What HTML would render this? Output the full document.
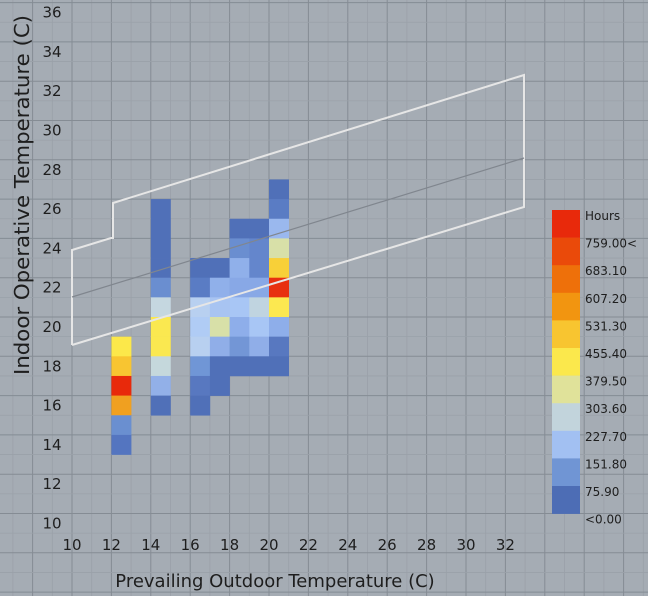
<!DOCTYPE html>
<html><head><meta charset="utf-8"><style>
html,body{margin:0;padding:0;background:#a5acb4;}
svg{display:block;}
text{font-family:"DejaVu Sans","Liberation Sans",sans-serif;fill:#1e1e1e;}
</style></head><body>
<svg width="648" height="596" viewBox="0 0 648 596" xmlns="http://www.w3.org/2000/svg">
<rect width="648" height="596" fill="#a5acb4"/>
<g id="grid"></g>
<g id="cells"></g>
<polyline points="72,345 72,250 111,238 113,238 113,203 524,75 524,207 72,345" fill="none" stroke="#e6e6e6" stroke-width="2"/>
<line x1="72" y1="297" x2="524" y2="158" stroke="#80868e" stroke-width="1.2"/>
<g id="cb"></g>
<g font-size="15" text-anchor="middle" id="yl"></g>
<g font-size="15" text-anchor="middle" id="xl"></g>
<text x="275" y="587" font-size="18" text-anchor="middle">Prevailing Outdoor Temperature (C)</text>
<text transform="translate(29,195) rotate(-90)" font-size="20" text-anchor="middle" textLength="360" lengthAdjust="spacingAndGlyphs">Indoor Operative Temperature (C)</text>
</svg>
<script>
var NS="http://www.w3.org/2000/svg";
function el(p,t,a,txt){var e=document.createElementNS(NS,t);for(var k in a)e.setAttribute(k,a[k]);if(txt!==undefined)e.textContent=txt;document.getElementById(p).appendChild(e);return e;}
var ux=19.7,uy=19.65;
function X(v){return 72+(v-10)*ux;}
function Y(v){return 317-(v-20)*uy;}
for(var v=-4;v<=40;v++){var x=X(v);if(x<0||x>648)continue;var mj=(v%2==0);
 el("grid","line",{x1:x,y1:0,x2:x,y2:596,stroke:mj?"#858c94":"#9aa1a9","stroke-width":mj?1:0.8});}
for(var v=4;v<=40;v++){var y=Y(v);if(y<0||y>596)continue;var mj=(v%2==0);
 el("grid","line",{x1:0,y1:y,x2:648,y2:y,stroke:mj?"#858c94":"#9aa1a9","stroke-width":mj?1:0.8});}
var D="#5070b8";
var cells=[
[12,18,"#fce84a"],[12,17,"#f8c531"],[12,16,"#e8290b"],[12,15,"#f0a020"],[12,14,"#6a8fd0"],[12,13,"#5475c0"],
[14,25,D],[14,24,D],[14,23,D],[14,22,D],[14,21,"#6a8ed0"],[14,20,"#c5d7e0"],[14,19,"#fae850"],[14,18,"#fae850"],[14,17,"#c5d8dc"],[14,16,"#92b0e8"],[14,15,D],
[16,22,D],[16,21,"#5a7cc4"],[16,20,"#b8d0f0"],[16,19,"#b0ccf5"],[16,18,"#b8d0f0"],[16,17,"#7096d6"],[16,16,"#5878c0"],[16,15,D],
[17,22,D],[17,21,"#90b0ea"],[17,20,"#a8c4f2"],[17,19,"#d8e0a8"],[17,18,"#90aee8"],[17,17,D],[17,16,D],
[18,24,D],[18,23,"#6a8ed0"],[18,22,"#90b0ea"],[18,21,"#88a8e6"],[18,20,"#a8c6f5"],[18,19,"#8eaeea"],[18,18,"#7396d6"],[18,17,D],
[19,24,D],[19,23,"#6486cc"],[19,22,"#6486cc"],[19,21,"#88a8e6"],[19,20,"#c0d4e0"],[19,19,"#a8c6f5"],[19,18,"#90aee8"],[19,17,D],
[20,26,D],[20,25,"#5a7cc4"],[20,24,"#9ab8ee"],[20,23,"#d8e0a8"],[20,22,"#f8d038"],[20,21,"#e83010"],[20,20,"#fce850"],[20,19,"#8eaeea"],[20,18,"#5878c0"],[20,17,D]];
cells.forEach(function(c){el("cells","rect",{x:X(c[0]),y:Y(c[1]+1),width:ux+0.3,height:uy+0.3,fill:c[2]});});
var cols=["#e8290b","#ea4a0a","#ee700a","#f29510","#f8c530","#fbe84c","#e0e29a","#c2d4dc","#a2c0f2","#7095d4","#4d6db5"];
var labs=["Hours","759.00<","683.10","607.20","531.30","455.40","379.50","303.60","227.70","151.80","75.90","<0.00"];
var t0=210,h=27.6;
cols.forEach(function(c,i){el("cb","rect",{x:552,y:t0+i*h,width:28,height:h+0.3,fill:c});});
labs.forEach(function(l,i){el("cb","text",{x:585,y:t0+i*h+10,"font-size":"12"},l);});
for(var v=10;v<=36;v+=2){el("yl","text",{x:52,y:Y(v)+15},String(v));}
for(var v=10;v<=32;v+=2){el("xl","text",{x:X(v),y:550},String(v));}
</script>
</body></html>
